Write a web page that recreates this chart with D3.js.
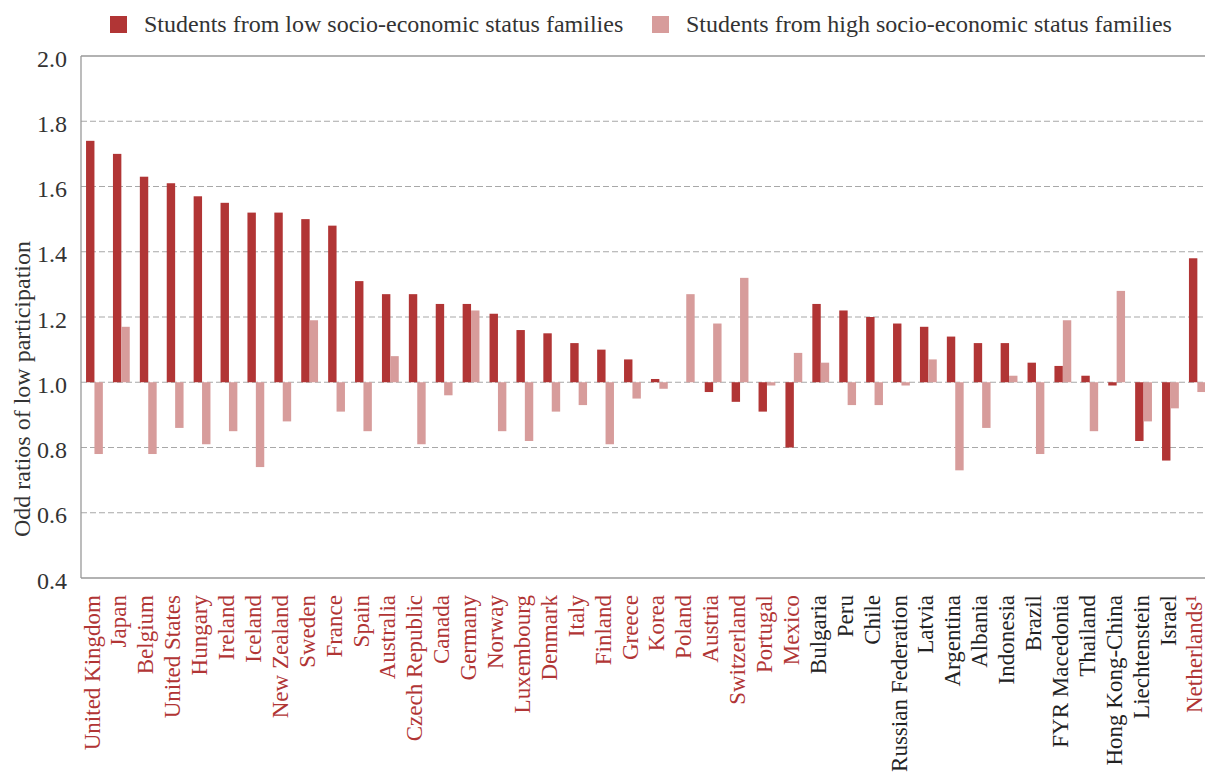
<!DOCTYPE html>
<html>
<head>
<meta charset="utf-8">
<script src="https://cdn.jsdelivr.net/npm/d3@7"></script>
<style>
  body { margin: 0; background: #fff; }
  svg { display: block; font-family: "Liberation Serif", "DejaVu Serif", serif; }
</style>
</head>
<body>
<svg width="1205" height="775"></svg>
<script>
// **** data ****

var countries = ["United Kingdom", "Japan", "Belgium", "United States", "Hungary", "Ireland",
    "Iceland", "New Zealand", "Sweden", "France", "Spain", "Australia", "Czech Republic",
    "Canada", "Germany", "Norway", "Luxembourg", "Denmark", "Italy", "Finland", "Greece",
    "Korea", "Poland", "Austria", "Switzerland", "Portugal", "Mexico", "Bulgaria", "Peru",
    "Chile", "Russian Federation", "Latvia", "Argentina", "Albania", "Indonesia", "Brazil",
    "FYR Macedonia", "Thailand", "Hong Kong-China", "Liechtenstein", "Israel", "Netherlands"];

// OECD countries get red labels, partners black
var oecd = ["United Kingdom", "Japan", "Belgium", "United States", "Hungary", "Ireland",
    "Iceland", "New Zealand", "Sweden", "France", "Spain", "Australia", "Czech Republic",
    "Canada", "Germany", "Norway", "Luxembourg", "Denmark", "Italy", "Finland", "Greece",
    "Korea", "Poland", "Austria", "Switzerland", "Portugal", "Mexico", "Netherlands"];

var lowSES = [1.74, 1.70, 1.63, 1.61, 1.57, 1.55, 1.52, 1.52, 1.50, 1.48, 1.31, 1.27, 1.27,
    1.24, 1.24, 1.21, 1.16, 1.15, 1.12, 1.10, 1.07, 1.01, 1.00, 0.97, 0.94, 0.91, 0.80, 1.24,
    1.22, 1.20, 1.18, 1.17, 1.14, 1.12, 1.12, 1.06, 1.05, 1.02, 0.99, 0.82, 0.76, 1.38];

var highSES = [0.78, 1.17, 0.78, 0.86, 0.81, 0.85, 0.74, 0.88, 1.19, 0.91, 0.85, 1.08, 0.81,
    0.96, 1.22, 0.85, 0.82, 0.91, 0.93, 0.81, 0.95, 0.98, 1.27, 1.18, 1.32, 0.99, 1.09, 1.06,
    0.93, 0.93, 0.99, 1.07, 0.73, 0.86, 1.02, 0.78, 1.19, 0.85, 1.28, 0.88, 0.92, 0.97];

var yTicks = [0.4, 0.6, 0.8, 1.0, 1.2, 1.4, 1.6, 1.8, 2.0];

var seriesNames = ["Students from low socio-economic status families",
    "Students from high socio-economic status families"];

var darkRed = "#b13535";
var lightRed = "#d79c9b";

// **** scales ****

var svg = d3.select("svg");

var plotLeft = 81, plotTop = 56, plotBottom = 578;
var step = 26.9;

var xScale = d3.scaleBand()
    .domain(countries)
    .range([plotLeft, plotLeft + step * countries.length])
    .padding(0);

var subScale = d3.scaleBand()
    .domain(["low", "high"])
    .range([0, xScale.bandwidth()])
    .paddingInner(0)
    .paddingOuter(0.6);

var yScale = d3.scaleLinear()
    .domain([0.4, 2.0]).range([plotBottom, plotTop]);

// **** grid and frame ****

svg.append("g").attr("class", "grid")
    .selectAll("line")
    .data(yTicks.filter(function(d) { return d > 0.4 && d < 2.0; }))
    .enter()
    .append("line")
    .attr("x1", plotLeft).attr("x2", 1205)
    .attr("y1", function(d) { return yScale(d); })
    .attr("y2", function(d) { return yScale(d); })
    .attr("stroke", "#a8a8a8")
    .attr("stroke-width", 1.2)
    .attr("stroke-dasharray", "6,3");

svg.append("line")
    .attr("x1", plotLeft).attr("x2", 1205)
    .attr("y1", yScale(2.0)).attr("y2", yScale(2.0))
    .attr("stroke", "#999").attr("stroke-width", 1.3);

svg.append("line")
    .attr("x1", plotLeft).attr("x2", 1205)
    .attr("y1", yScale(0.4)).attr("y2", yScale(0.4))
    .attr("stroke", "#999").attr("stroke-width", 1.3);

svg.append("line")
    .attr("x1", plotLeft).attr("x2", plotLeft)
    .attr("y1", yScale(2.0)).attr("y2", yScale(0.4))
    .attr("stroke", "#999").attr("stroke-width", 1.3);

// **** bars ****

var rows = countries.map(function(c, i) {
    return {country: c, low: lowSES[i], high: highSES[i]};
});

function drawBars(key, colour) {
    svg.append("g").attr("class", "bars-" + key)
        .selectAll("rect")
        .data(rows)
        .enter()
        .append("rect")
        .attr("x", function(d) { return xScale(d.country) + subScale(key); })
        .attr("width", subScale.bandwidth())
        .attr("y", function(d) { return yScale(Math.max(d[key], 1)); })
        .attr("height", function(d) { return Math.abs(yScale(d[key]) - yScale(1)); })
        .attr("fill", colour);
}

drawBars("low", darkRed);
drawBars("high", lightRed);

// **** axes ****

var yAxis = svg.append("g").attr("class", "y axis")
    .attr("transform", "translate(" + (plotLeft - 11) + ",0)")
    .call(d3.axisLeft(yScale).tickValues(yTicks).tickSize(0).tickFormat(d3.format(".1f")));
yAxis.select(".domain").remove();
yAxis.selectAll("text")
    .attr("font-family", "Liberation Serif, serif")
    .attr("font-size", 24)
    .attr("fill", "#333")
    .attr("dy", "0.42em");

svg.append("text")
    .attr("transform", "translate(30,389) rotate(-90)")
    .attr("text-anchor", "middle")
    .attr("font-size", 24)
    .attr("fill", "#333")
    .text("Odd ratios of low participation");

var xLabels = svg.append("g").attr("class", "x labels")
    .selectAll("text")
    .data(countries)
    .enter()
    .append("text")
    .attr("transform", function(d) {
        return "translate(" + (xScale(d) + xScale.bandwidth() / 2 - 3) + ",595) rotate(-90)";
    })
    .attr("text-anchor", "end")
    .attr("dy", "0.35em")
    .attr("font-size", 23)
    .attr("fill", function(d) { return oecd.indexOf(d) >= 0 ? darkRed : "#222"; })
    .text(function(d) { return d; });

// superscript footnote on the Netherlands
xLabels.filter(function(d) { return d === "Netherlands"; })
    .text("Netherlands\u00b9");

// **** legend ****

var legendX = [110, 652];
var legend = svg.append("g").attr("class", "legend")
    .selectAll("g")
    .data(seriesNames)
    .enter()
    .append("g")
    .attr("transform", function(d, i) { return "translate(" + legendX[i] + ",16)"; });

legend.append("rect")
    .attr("width", 17).attr("height", 17)
    .attr("fill", function(d, i) { return i === 0 ? darkRed : lightRed; });

legend.append("text")
    .attr("x", 34).attr("y", 16)
    .attr("font-size", 24)
    .attr("fill", "#333")
    .text(function(d) { return d; });
</script>
</body>
</html>
